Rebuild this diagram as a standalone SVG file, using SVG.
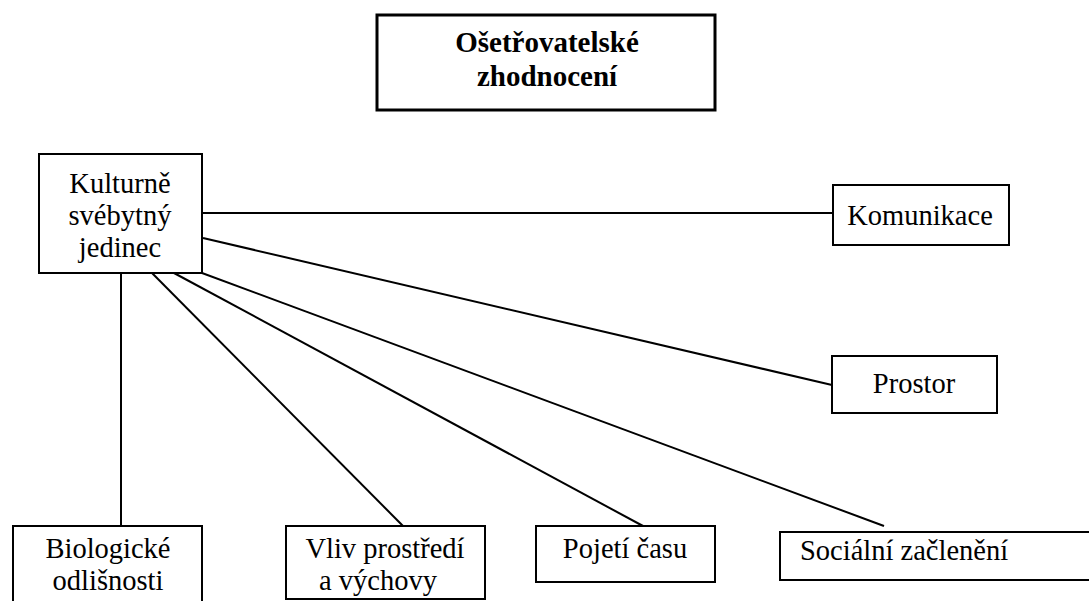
<svg xmlns="http://www.w3.org/2000/svg" width="1089" height="601" viewBox="0 0 1089 601">
<style>
.box{fill:#fff;stroke:#000;stroke-width:2}
.title{fill:#fff;stroke:#000;stroke-width:3}
.t{font-family:"Liberation Serif","Times New Roman",serif;font-size:28.5px;fill:#000}
.b{font-weight:bold;font-size:29px}
.m{text-anchor:middle}
.c{stroke:#000;stroke-width:2;fill:none}
</style>
<rect width="1089" height="601" fill="#fff"/>
<g id="connectors">
<line class="c" x1="203" y1="213" x2="833" y2="213"/>
<line class="c" x1="203" y1="238" x2="832" y2="385"/>
<line class="c" x1="121" y1="273" x2="121" y2="526"/>
<line class="c" x1="152" y1="273" x2="403" y2="526"/>
<line class="c" x1="174" y1="273" x2="643" y2="526"/>
<line class="c" x1="202" y1="273" x2="884" y2="526"/>
</g>
<g id="n-title">
<rect class="title" x="377" y="15" width="338" height="95"/>
<text class="t b m" x="547" y="52">Ošetřovatelské</text>
<text class="t b m" x="547" y="86">zhodnocení</text>
</g>
<g id="n-kulturne">
<rect class="box" x="39" y="154" width="163" height="119"/>
<text class="t m" x="120" y="193">Kulturně</text>
<text class="t m" x="120" y="225">svébytný</text>
<text class="t m" x="120" y="257">jedinec</text>
</g>
<g id="n-komunikace">
<rect class="box" x="833" y="185" width="176" height="60"/>
<text class="t m" x="920" y="225">Komunikace</text>
</g>
<g id="n-prostor">
<rect class="box" x="832" y="356" width="165" height="57"/>
<text class="t m" x="914" y="393">Prostor</text>
</g>
<g id="n-biologicke">
<rect class="box" x="13" y="526" width="189" height="80"/>
<text class="t m" x="108" y="558">Biologické</text>
<text class="t m" x="108" y="590">odlišnosti</text>
</g>
<g id="n-vliv">
<rect class="box" x="286" y="526" width="199" height="73"/>
<text class="t m" x="385" y="558">Vliv prostředí</text>
<text class="t m" x="378" y="590">a výchovy</text>
</g>
<g id="n-pojeti">
<rect class="box" x="536" y="526" width="179" height="56"/>
<text class="t m" x="625" y="558">Pojetí času</text>
</g>
<g id="n-socialni">
<rect class="box" x="780" y="532" width="320" height="48"/>
<text class="t" x="800" y="560">Sociální začlenění</text>
</g>
</svg>
